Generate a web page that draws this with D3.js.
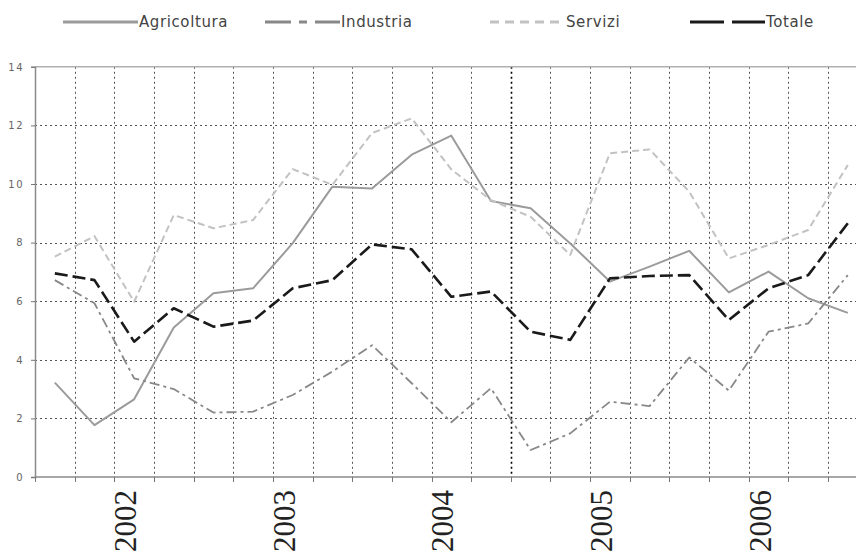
<!DOCTYPE html>
<html>
<head>
<meta charset="utf-8">
<script src="https://cdn.jsdelivr.net/npm/d3@7"></script>
<style>
  body { margin: 0; background: #fff; }
  svg { display: block; }
</style>
</head>
<body>
<svg id="chart" width="856" height="554"></svg>
<script>
// quarterly categories, 2001 T3 .. 2006 T3
const quarters = [
  "2001-T3", "2001-T4",
  "2002-T1", "2002-T2", "2002-T3", "2002-T4",
  "2003-T1", "2003-T2", "2003-T3", "2003-T4",
  "2004-T1", "2004-T2", "2004-T3", "2004-T4",
  "2005-T1", "2005-T2", "2005-T3", "2005-T4",
  "2006-T1", "2006-T2", "2006-T3"
];
const yearLabels = ["2002", "2003", "2004", "2005", "2006"];
const yTicks = [0, 2, 4, 6, 8, 10, 12, 14];

const agricoltura = [3.22, 1.77, 2.65, 5.1, 6.27, 6.44, 7.98, 9.91, 9.85, 11.0, 11.65, 9.42, 9.17, 7.97, 6.67, 7.18, 7.72, 6.3, 7.01, 6.1, 5.6];
const industria   = [6.72, 5.93, 3.37, 3.0, 2.2, 2.23, 2.8, 3.6, 4.5, 3.2, 1.87, 3.03, 0.92, 1.49, 2.57, 2.42, 4.08, 2.95, 4.96, 5.24, 6.89];
const servizi     = [7.52, 8.22, 5.98, 8.94, 8.49, 8.77, 10.51, 9.97, 11.74, 12.24, 10.5, 9.45, 8.88, 7.58, 11.05, 11.18, 9.74, 7.46, 7.92, 8.43, 10.65];
const totale      = [6.95, 6.72, 4.62, 5.76, 5.13, 5.34, 6.44, 6.72, 7.94, 7.77, 6.15, 6.33, 4.96, 4.68, 6.78, 6.86, 6.89, 5.36, 6.44, 6.89, 8.66];

const series = [
  { name: "Agricoltura", values: agricoltura, color: "#9b9b9b", width: 2,   dash: null,       legDash: null,           legX: 63 },
  { name: "Industria",   values: industria,   color: "#888888", width: 1.8, dash: "10,4,3,4", legDash: "26,8,8,8,40", legX: 265 },
  { name: "Servizi",     values: servizi,     color: "#c2c2c2", width: 2,   dash: "7,4",      legDash: "9,6",          legX: 490 },
  { name: "Totale",      values: totale,      color: "#1a1a1a", width: 2.6, dash: "13,5",     legDash: "34,8,40",      legX: 690 }
];

const svg = d3.select("#chart");
const plotLeft = 35, plotTop = 66.8, plotBottom = 477, step = 39.65;

const x = d3.scaleBand().domain(quarters).range([plotLeft, plotLeft + step * quarters.length]);
const y = d3.scaleLinear().domain([0, 14]).range([plotBottom, plotTop]);
const cx = q => x(q) + x.bandwidth() / 2;

// Grid
const grid = svg.append("g");
grid.selectAll(".hg")
  .data(yTicks.filter(v => v > 0 && v < 14))
  .enter().append("line")
  .attr("x1", plotLeft).attr("x2", 870)
  .attr("y1", d => Math.round(y(d)) + 0.5).attr("y2", d => Math.round(y(d)) + 0.5)
  .attr("stroke", "#555").attr("stroke-width", 1).attr("stroke-dasharray", "2,3");

grid.selectAll(".vg")
  .data(quarters.slice(1))
  .enter().append("line")
  .attr("x1", d => Math.round(x(d)) + 0.5).attr("x2", d => Math.round(x(d)) + 0.5)
  .attr("y1", plotTop).attr("y2", plotBottom)
  .attr("stroke", d => d === "2004-T3" ? "#000" : "#555")
  .attr("stroke-width", d => d === "2004-T3" ? 1.6 : 1)
  .attr("stroke-dasharray", "2,3");

// top border
svg.append("line")
  .attr("x1", plotLeft).attr("x2", 870)
  .attr("y1", y(14)).attr("y2", y(14))
  .attr("stroke", "#b0b0b0").attr("stroke-width", 1.5);

// Y axis
const yAxis = svg.append("g")
  .attr("transform", `translate(${plotLeft},0)`)
  .call(d3.axisLeft(y).tickValues(yTicks).tickSize(4).tickPadding(7));
yAxis.select(".domain").attr("stroke", "#8a8a8a").attr("stroke-width", 1.5);
yAxis.selectAll(".tick line").attr("stroke", "#777");
yAxis.selectAll(".tick text")
  .attr("fill", "#666")
  .style("font-family", "DejaVu Sans, sans-serif")
  .style("font-size", "10px")
  .style("letter-spacing", "1.5px");

// X axis
const xg = svg.append("g");
xg.append("line")
  .attr("x1", plotLeft).attr("x2", 870)
  .attr("y1", plotBottom).attr("y2", plotBottom)
  .attr("stroke", "#8a8a8a").attr("stroke-width", 1.5);
xg.selectAll(".xt")
  .data(quarters)
  .enter().append("line")
  .attr("x1", d => Math.round(x(d)) + 0.5).attr("x2", d => Math.round(x(d)) + 0.5)
  .attr("y1", plotBottom).attr("y2", plotBottom + 5)
  .attr("stroke", "#777");
xg.selectAll(".xl")
  .data(yearLabels)
  .enter().append("text")
  .attr("transform", d => `translate(${cx(d + "-T1") + 2},490) rotate(-90)`)
  .attr("text-anchor", "end")
  .attr("fill", "#222")
  .style("font-family", "Liberation Serif, serif")
  .style("font-size", "31px")
  .text(d => d);

// Lines
const line = d3.line()
  .x((d, i) => cx(quarters[i]))
  .y(d => y(d));

svg.selectAll(".series")
  .data(series)
  .enter().append("path")
  .attr("class", "series")
  .attr("d", d => line(d.values))
  .attr("fill", "none")
  .attr("stroke", d => d.color)
  .attr("stroke-width", d => d.width)
  .attr("stroke-dasharray", d => d.dash)
  .attr("stroke-linejoin", "round");

// Legend
const leg = svg.append("g");
const legItems = leg.selectAll(".leg")
  .data(series)
  .enter().append("g")
  .attr("transform", d => `translate(${d.legX},22)`);
legItems.append("line")
  .attr("x1", 0).attr("x2", 75)
  .attr("y1", 0).attr("y2", 0)
  .attr("stroke", d => d.color)
  .attr("stroke-width", 3)
  .attr("stroke-dasharray", d => d.legDash);
legItems.append("text")
  .attr("x", 76).attr("y", 5)
  .attr("fill", "#444")
  .style("font-family", "DejaVu Sans, sans-serif")
  .style("font-size", "15px")
  .style("letter-spacing", "0.6px")
  .text(d => d.name);
</script>
</body>
</html>
